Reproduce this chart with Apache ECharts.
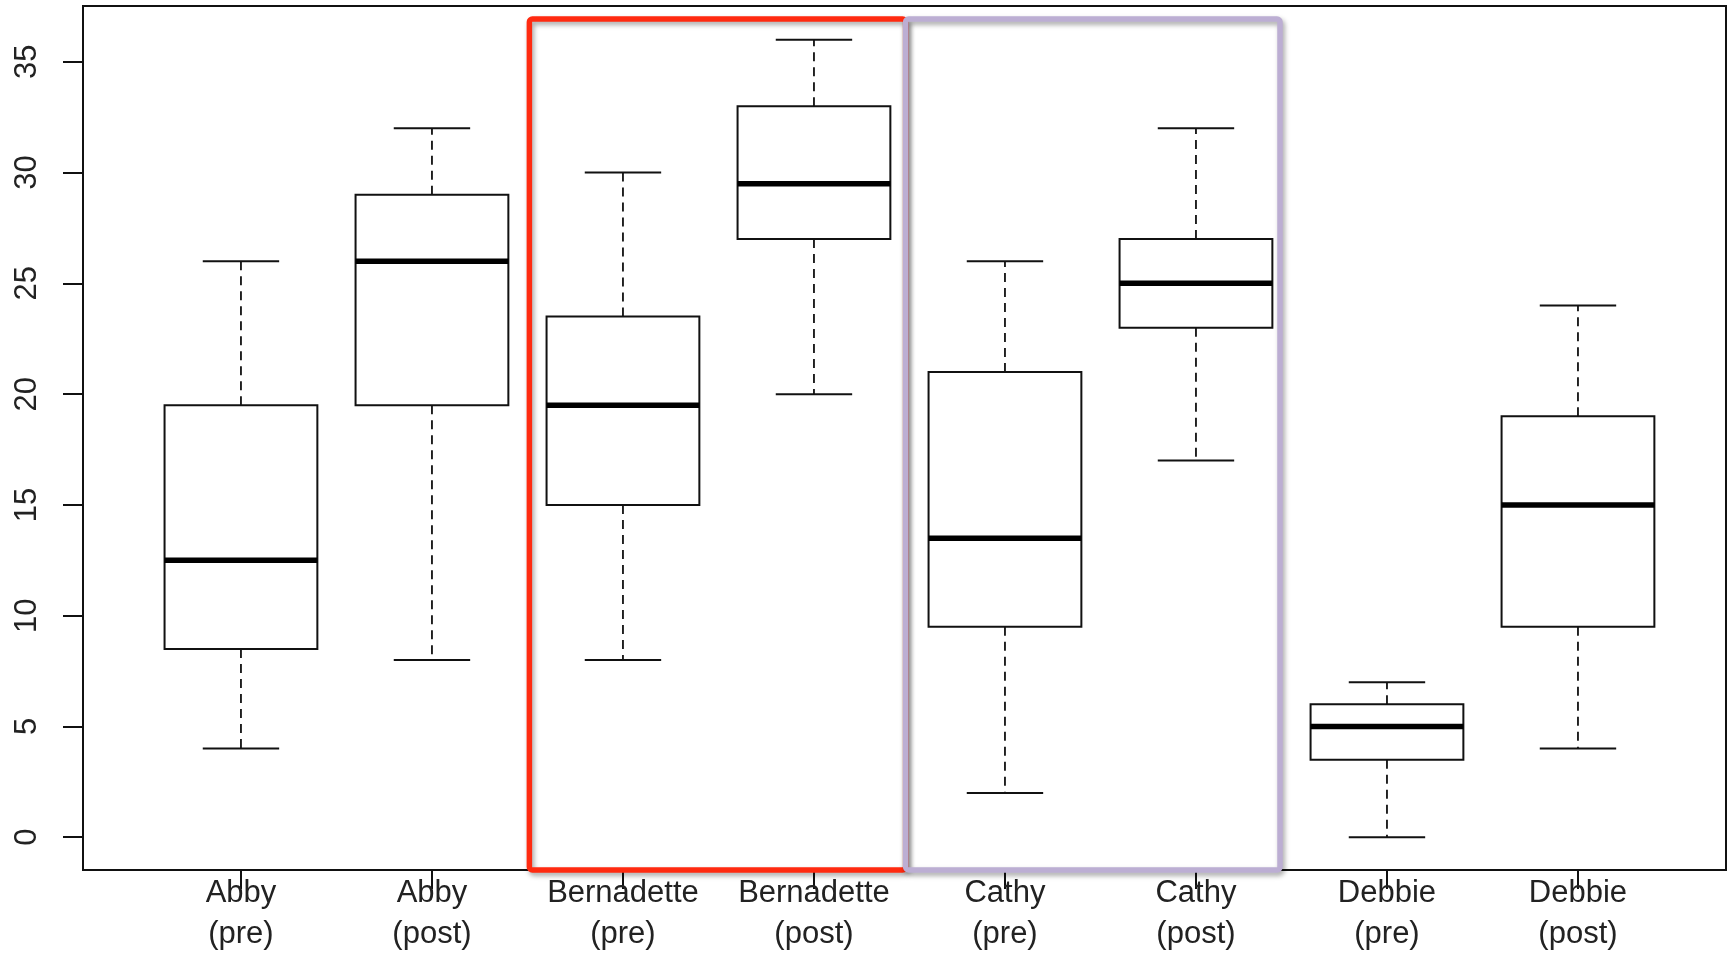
<!DOCTYPE html>
<html>
<head>
<meta charset="utf-8">
<script src="https://cdn.jsdelivr.net/npm/echarts@6/dist/echarts.min.js"></script>
<style>
html,body{margin:0;padding:0;background:#fff;}
#chart{width:1728px;height:955px;}
</style>
</head>
<body>
<div id="chart"></div>
<script>
// ---- data ----
const categories = ['Abby\n(pre)', 'Abby\n(post)', 'Bernadette\n(pre)', 'Bernadette\n(post)',
                    'Cathy\n(pre)', 'Cathy\n(post)', 'Debbie\n(pre)', 'Debbie\n(post)'];
const lowerWhisker = [4, 8, 8, 20, 2, 17, 0, 4];
const q1Values     = [8.5, 19.5, 15, 27, 9.5, 23, 3.5, 9.5];
const medianValues = [12.5, 26, 19.5, 29.5, 13.5, 25, 5, 15];
const q3Values     = [19.5, 29, 23.5, 33, 21, 27, 6, 19];
const upperWhisker = [26, 32, 30, 36, 26, 32, 7, 24];
const yTicks = [0, 5, 10, 15, 20, 25, 30, 35];
const xPositions = categories.map((c, i) => i + 1);

// ---- build series data ----
const boxData = categories.map((c, i) => [xPositions[i], lowerWhisker[i], q1Values[i], medianValues[i], q3Values[i], upperWhisker[i]]);

const chart = echarts.init(document.getElementById('chart'), null, {renderer: 'canvas'});

const FONT = '"Liberation Sans", Arial, sans-serif';
const INK = '#111';

function renderBox(params, api) {
  const x = api.value(0);
  const pLo = api.coord([x, api.value(1)]);
  const pQ1 = api.coord([x, api.value(2)]);
  const pMed = api.coord([x, api.value(3)]);
  const pQ3 = api.coord([x, api.value(4)]);
  const pHi = api.coord([x, api.value(5)]);
  const halfW = api.size([0.8, 0])[0] / 2;
  const capHalf = api.size([0.4, 0])[0] / 2;
  const cx = pMed[0];
  const dash = {stroke: INK, lineWidth: 1.8, lineDash: [9, 6]};
  const solid = {stroke: INK, lineWidth: 2};
  return {
    type: 'group',
    children: [
      {type: 'line', shape: {x1: cx, y1: pQ1[1], x2: cx, y2: pLo[1]}, style: dash},
      {type: 'line', shape: {x1: cx, y1: pQ3[1], x2: cx, y2: pHi[1]}, style: dash},
      {type: 'line', shape: {x1: cx - capHalf, y1: pLo[1], x2: cx + capHalf, y2: pLo[1]}, style: solid},
      {type: 'line', shape: {x1: cx - capHalf, y1: pHi[1], x2: cx + capHalf, y2: pHi[1]}, style: solid},
      {type: 'rect', shape: {x: cx - halfW, y: pQ3[1], width: 2 * halfW, height: pQ1[1] - pQ3[1]},
       style: {fill: '#fff', stroke: INK, lineWidth: 2}},
      {type: 'line', shape: {x1: cx - halfW, y1: pMed[1], x2: cx + halfW, y2: pMed[1]},
       style: {stroke: '#000', lineWidth: 5.5}}
    ]
  };
}

function renderHighlight(params, api) {
  const cs = params.coordSys;
  const xa = api.coord([api.value(0), 0])[0];
  const xb = api.coord([api.value(1), 0])[0];
  const top = cs.y + 13;
  const bottom = cs.y + cs.height;
  return {
    type: 'rect',
    shape: {x: xa, y: top, width: xb - xa, height: bottom - top, r: 3},
    style: {
      fill: 'none',
      stroke: api.visual('color'),
      lineWidth: 5.5,
      shadowBlur: 5,
      shadowOffsetX: 2,
      shadowOffsetY: 3,
      shadowColor: 'rgba(0,0,0,0.35)'
    }
  };
}

const option = {
  backgroundColor: '#fff',
  animation: false,
  grid: {
    left: 83, top: 6, right: 2, bottom: 82,
    show: true, borderColor: INK, borderWidth: 2, backgroundColor: 'transparent'
  },
  xAxis: {
    type: 'value',
    min: 0.173, max: 8.775,
    splitLine: {show: false},
    axisLine: {show: true, onZero: false, lineStyle: {color: INK, width: 2}},
    axisTick: {show: true, customValues: xPositions, length: 19, lineStyle: {color: INK, width: 2}},
    axisLabel: {
      customValues: xPositions,
      formatter: v => categories[Math.round(v) - 1],
      color: '#222', fontFamily: FONT, fontSize: 31, lineHeight: 41, margin: 3
    }
  },
  yAxis: {
    type: 'value',
    min: -1.48, max: 37.52,
    splitLine: {show: false},
    axisLine: {show: true, onZero: false, lineStyle: {color: INK, width: 2}},
    axisTick: {show: true, customValues: yTicks, length: 20, lineStyle: {color: INK, width: 2}},
    axisLabel: {
      customValues: yTicks,
      rotate: 90,
      color: '#222', fontFamily: FONT, fontSize: 31, margin: 40
    }
  },
  series: [
    {
      type: 'custom',
      name: 'boxes',
      renderItem: renderBox,
      data: boxData,
      encode: {x: 0, y: [1, 2, 3, 4, 5]},
      clip: false,
      z: 2
    },
    {
      type: 'custom',
      name: 'highlight',
      renderItem: renderHighlight,
      data: [
        {value: [2.51, 4.48], itemStyle: {color: '#ff2a10'}},
        {value: [4.48, 6.44], itemStyle: {color: '#bcaed3'}}
      ],
      encode: {x: [0, 1]},
      clip: false,
      silent: true,
      z: 5
    }
  ]
};

chart.setOption(option);
</script>
</body>
</html>
